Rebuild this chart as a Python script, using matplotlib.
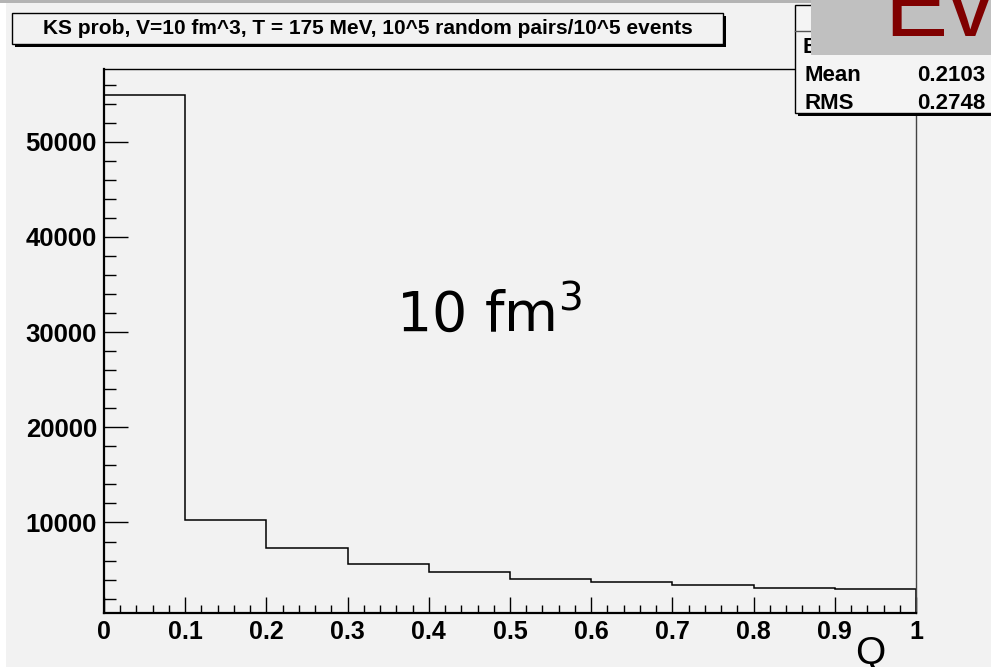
import numpy as np
import matplotlib
matplotlib.use('Agg')
import matplotlib.pyplot as plt
from matplotlib.patches import Rectangle
from matplotlib.ticker import MultipleLocator

# histogram of Q, 10 bins between 0 and 1
bin_edges = [0.0, 0.1, 0.2, 0.3, 0.4, 0.5, 0.6, 0.7, 0.8, 0.9, 1.0]
counts = [54880, 10215, 7350, 5670, 4830, 4090, 3706, 3390, 3150, 3013]
x_ticks = [0, 0.1, 0.2, 0.3, 0.4, 0.5, 0.6, 0.7, 0.8, 0.9, 1]
x_labels = ['0', '0.1', '0.2', '0.3', '0.4', '0.5', '0.6', '0.7', '0.8', '0.9', '1']
y_ticks = [10000, 20000, 30000, 40000, 50000]

title = 'KS prob, V=10 fm^3, T = 175 MeV, 10^5 random pairs/10^5 events'
stats = [('Mean', '0.2103'), ('RMS', '0.2748')]

W, H = 991, 667
bg = '#f2f2f2'
helv = 'Liberation Sans'

fig = plt.figure(figsize=(W / 100, H / 100), dpi=100, facecolor=bg)

# main frame, pixel box 104..916 x 69..613
ax = fig.add_axes([104 / W, 1 - 613 / H, (916 - 104) / W, (613 - 69) / H])
ax.set_facecolor(bg)
ax.stairs(counts, bin_edges, color='black', linewidth=1.1)
ax.set_xlim(0, 1)
ax.set_ylim(490, 57640)

ax.set_xticks(x_ticks)
ax.set_xticklabels(x_labels)
ax.set_yticks(y_ticks)
ax.xaxis.set_minor_locator(MultipleLocator(0.02))
ax.yaxis.set_minor_locator(MultipleLocator(2000))
ax.tick_params(axis='x', which='major', direction='in', length=11.5, width=1, pad=5)
ax.tick_params(axis='x', which='minor', direction='in', length=5.8, width=1)
ax.tick_params(axis='y', which='major', direction='in', length=17.5, width=1, pad=5)
ax.tick_params(axis='y', which='minor', direction='in', length=8.6, width=1)
for lab in ax.get_xticklabels():
    lab.set_fontfamily(helv)
    lab.set_fontweight('bold')
    lab.set_fontsize(18)
for lab in ax.get_yticklabels():
    lab.set_fontfamily(helv)
    lab.set_fontweight('bold')
    lab.set_fontsize(18.5)
for side in ['left', 'bottom']:
    ax.spines[side].set_linewidth(1.6)
for side in ['top', 'right']:
    ax.spines[side].set_linewidth(1.0)
ax.spines['right'].set_color('#444444')

ax.text(0.36, 0.518, '10 fm$^3$', transform=ax.transAxes, fontsize=40,
        family='DejaVu Sans', ha='left', va='baseline')

# overlay in pixel coordinates for the pads / boxes
ov = fig.add_axes([0, 0, 1, 1])
ov.set_xlim(0, W)
ov.set_ylim(H, 0)
ov.axis('off')
ov.patch.set_visible(False)

ov.add_patch(Rectangle((0, 0), 6, H, facecolor='white', edgecolor='none'))
ov.add_patch(Rectangle((0, 0), W, 3, facecolor='#b4b4b4', edgecolor='none'))

# title box with shadow
ov.add_patch(Rectangle((15, 16), 711, 31, facecolor='black', edgecolor='none'))
ov.add_patch(Rectangle((12, 13), 711, 31, facecolor=bg, edgecolor='black', linewidth=1))
ov.text(367.5, 29, title, fontsize=15, family=helv, fontweight='bold',
        ha='center', va='center')

# stats box with shadow
ov.add_patch(Rectangle((798, 8), 220, 108, facecolor='black', edgecolor='none'))
ov.add_patch(Rectangle((795, 5), 220, 108, facecolor='#f4f4f4', edgecolor='black', linewidth=1))
ov.plot([795, W], [31, 31], color='#555555', linewidth=1)
ov.text(803, 53, 'Entries', fontsize=16, family=helv, fontweight='bold', ha='left', va='baseline')
for i, (k, v) in enumerate(stats):
    yy = 81 + 28 * i
    ov.text(804, yy, k, fontsize=16, family=helv, fontweight='bold', ha='left', va='baseline')
    ov.text(985, yy, v, fontsize=16, family=helv, fontweight='bold', ha='right', va='baseline')

# grey pad covering the corner with big red text
ov.add_patch(Rectangle((811, 0), 200, 55, facecolor='#c0c0c0', edgecolor='none', zorder=5))
ov.text(884, 36, 'Eve', fontsize=68, family=helv, color='#800000', ha='left', va='baseline',
        zorder=6)

# axis title
ov.text(870, 664, 'Q', fontsize=28, family=helv, ha='center', va='baseline')

fig.savefig('out.png', dpi=100, facecolor=bg)
